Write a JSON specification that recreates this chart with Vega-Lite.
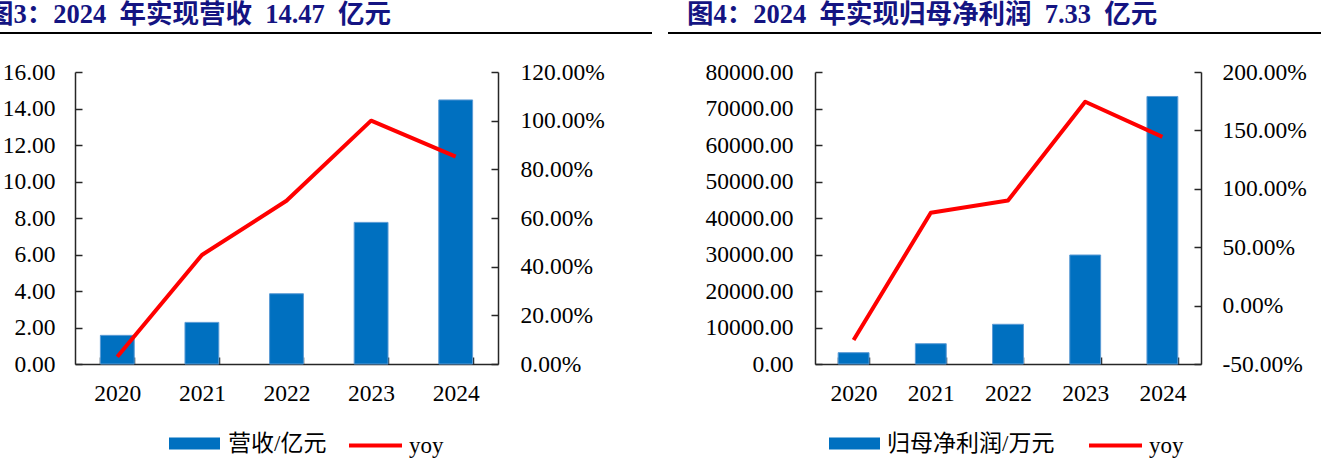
{
  "$schema": "https://vega.github.io/schema/vega-lite/v6.json",
  "padding": {"left": -14, "top": 0, "right": 0, "bottom": 0},
  "config": {
    "view": {"stroke": null},
    "axis": {"grid": false, "domainColor": "#262626", "domainWidth": 1.5, "tickColor": "#262626", "tickWidth": 1.5, "tickSize": -7, "labelFont": "Liberation Serif", "labelFontSize": 23.5, "labelColor": "#000000", "labelOverlap": false},
    "legend": {"labelFont": "Liberation Serif, Noto Sans CJK SC", "labelFontSize": 23, "labelColor": "#000000", "orient": "none", "labelLimit": 0}
  },
  "bounds": "flush",
  "spacing": 39,
  "resolve": {"scale": {"fill": "independent", "stroke": "independent"}, "legend": {"fill": "independent", "stroke": "independent"}},
  "vconcat": [
    {
      "bounds": "flush",
      "spacing": 18,
      "hconcat": [
        {
          "width": 650, "height": 0.001,
          "data": {"values": []},
          "mark": "text",
          "encoding": {},
          "view": {"stroke": "#000000", "strokeWidth": 2},
          "title": {"text": "图3：2024\u2002年实现营收\u200214.47\u2002亿元", "anchor": "start", "frame": "group", "dx": -14, "offset": -16, "baseline": "alphabetic", "font": "Liberation Serif, Noto Sans CJK SC", "fontSize": 26.5, "fontWeight": "bold", "color": "#141482"}
        },
        {
          "width": 653, "height": 0.001,
          "data": {"values": []},
          "mark": "text",
          "encoding": {},
          "view": {"stroke": "#000000", "strokeWidth": 2},
          "title": {"text": "图4：2024\u2002年实现归母净利润\u20027.33\u2002亿元", "anchor": "start", "frame": "group", "dx": 18, "offset": -16, "baseline": "alphabetic", "font": "Liberation Serif, Noto Sans CJK SC", "fontSize": 26.5, "fontWeight": "bold", "color": "#141482"}
        }
      ]
    },
    {
      "spacing": 0,
      "resolve": {"scale": {"fill": "independent", "stroke": "independent"}, "legend": {"fill": "independent", "stroke": "independent"}},
      "hconcat": [
        {
          "width": 0.001, "height": 0.001,
          "data": {"values": []},
          "mark": "text",
          "encoding": {}
        },
        {
          "spacing": 99,
          "resolve": {"scale": {"fill": "independent", "stroke": "independent"}, "legend": {"fill": "independent", "stroke": "independent"}},
          "hconcat": [
            {
              "width": 423, "height": 292,
              "data": {"values": [
                {"year": "2020", "rev": 1.57, "yoy": 0.03},
                {"year": "2021", "rev": 2.28, "yoy": 0.448},
                {"year": "2022", "rev": 3.85, "yoy": 0.671},
                {"year": "2023", "rev": 7.76, "yoy": 1.0},
                {"year": "2024", "rev": 14.47, "yoy": 0.852}
              ]},
              "encoding": {
                "x": {"field": "year", "type": "ordinal", "scale": {"paddingInner": 0.6, "paddingOuter": 0.3},
                      "axis": {"title": null, "labelAngle": 0, "tickBand": "extent", "labelPadding": 24}}
              },
              "layer": [
                {
                  "mark": {"type": "bar", "stroke": "#5b9bd5", "strokeWidth": 1},
                  "encoding": {
                    "y": {"field": "rev", "type": "quantitative", "scale": {"domain": [0, 16], "nice": false},
                          "axis": {"title": null, "orient": "left", "values": [0, 2, 4, 6, 8, 10, 12, 14, 16], "format": ".2f", "labelPadding": 27}},
                    "fill": {"datum": "营收/亿元", "type": "nominal", "scale": {"range": ["#0070C0"]},
                             "legend": {"title": null, "orient": "none", "legendX": 94, "legendY": 346, "symbolType": "M-1,-0.235H1V0.235H-1Z", "symbolSize": 2601, "symbolStrokeWidth": 0, "symbolOpacity": 1, "labelOffset": 8}}
                  }
                },
                {
                  "mark": {"type": "line", "strokeWidth": 4, "strokeJoin": "round"},
                  "encoding": {
                    "y": {"field": "yoy", "type": "quantitative", "scale": {"domain": [0, 1.2], "nice": false},
                          "axis": {"title": null, "orient": "right", "values": [0, 0.2, 0.4, 0.6, 0.8, 1.0, 1.2], "format": ".2%", "labelPadding": 29}},
                    "stroke": {"datum": "yoy", "type": "nominal", "scale": {"range": ["#FF0000"]},
                               "legend": {"title": null, "orient": "none", "legendX": 272, "legendY": 345, "symbolType": "stroke", "symbolSize": 2809, "symbolStrokeWidth": 4, "labelOffset": 5}}
                  }
                }
              ],
              "resolve": {"scale": {"y": "independent"}}
            },
            {
              "width": 386, "height": 292,
              "data": {"values": [
                {"year": "2020", "profit": 3100, "yoy": -0.295},
                {"year": "2021", "profit": 5560, "yoy": 0.795},
                {"year": "2022", "profit": 10880, "yoy": 0.90},
                {"year": "2023", "profit": 29860, "yoy": 1.745},
                {"year": "2024", "profit": 73300, "yoy": 1.445}
              ]},
              "encoding": {
                "x": {"field": "year", "type": "ordinal", "scale": {"paddingInner": 0.6, "paddingOuter": 0.3},
                      "axis": {"title": null, "labelAngle": 0, "tickBand": "extent", "labelPadding": 24}}
              },
              "layer": [
                {
                  "mark": {"type": "bar", "stroke": "#5b9bd5", "strokeWidth": 1},
                  "encoding": {
                    "y": {"field": "profit", "type": "quantitative", "scale": {"domain": [0, 80000], "nice": false},
                          "axis": {"title": null, "orient": "left", "values": [0, 10000, 20000, 30000, 40000, 50000, 60000, 70000, 80000], "format": ".2f", "labelPadding": 29}},
                    "fill": {"datum": "归母净利润/万元", "type": "nominal", "scale": {"range": ["#0070C0"]},
                             "legend": {"title": null, "orient": "none", "legendX": 14, "legendY": 346, "symbolType": "M-1,-0.235H1V0.235H-1Z", "symbolSize": 2601, "symbolStrokeWidth": 0, "symbolOpacity": 1, "labelOffset": 7}}
                  }
                },
                {
                  "mark": {"type": "line", "strokeWidth": 4, "strokeJoin": "round"},
                  "encoding": {
                    "y": {"field": "yoy", "type": "quantitative", "scale": {"domain": [-0.5, 2.0], "nice": false},
                          "axis": {"title": null, "orient": "right", "values": [-0.5, 0, 0.5, 1.0, 1.5, 2.0], "labelExpr": "replace(format(datum.value, '.2%'), '\u2212', '-')", "labelPadding": 28}},
                    "stroke": {"datum": "yoy", "type": "nominal", "scale": {"range": ["#FF0000"]},
                               "legend": {"title": null, "orient": "none", "legendX": 272, "legendY": 345, "symbolType": "stroke", "symbolSize": 2809, "symbolStrokeWidth": 4, "labelOffset": 5}}
                  }
                }
              ],
              "resolve": {"scale": {"y": "independent"}}
            }
          ]
        }
      ]
    }
  ]
}
